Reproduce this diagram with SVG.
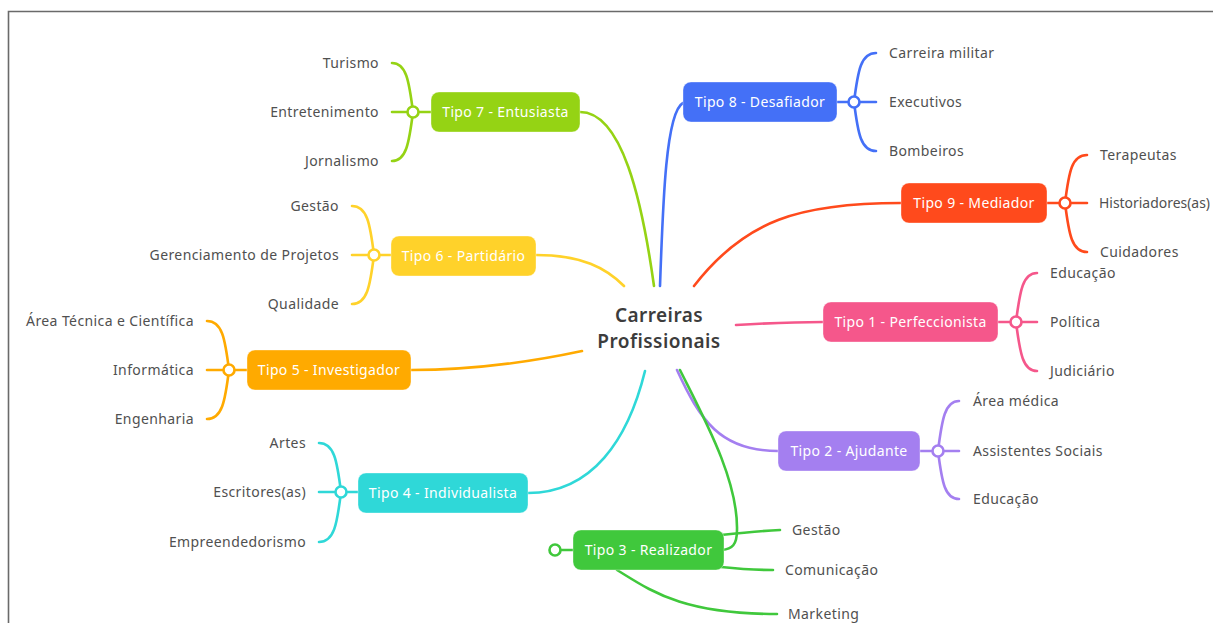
<svg xmlns="http://www.w3.org/2000/svg" width="1213" height="623" viewBox="0 0 1213 623">
  <defs>
    <radialGradient id="haze" cx="0.5" cy="0" r="0.5">
      <stop offset="0" stop-color="#e6e6e6" stop-opacity="0.95"/>
      <stop offset="0.6" stop-color="#f1f1f1" stop-opacity="0.6"/>
      <stop offset="1" stop-color="#ffffff" stop-opacity="0"/>
    </radialGradient>
    <radialGradient id="glow" cx="0.5" cy="0" r="0.5">
      <stop offset="0" stop-color="#ffd27a" stop-opacity="0.9"/>
      <stop offset="1" stop-color="#ffffff" stop-opacity="0"/>
    </radialGradient>
    <style>
      .box { stroke: #ffffff; stroke-opacity: 0.35; stroke-width: 1; }
      .lbl { font-family: "Noto Sans", Lato, sans-serif; font-size: 14px; letter-spacing: 0.35px; fill: #ffffff; text-anchor: middle; }
      .leaf { font-family: "Noto Sans", Lato, sans-serif; font-size: 14px; letter-spacing: 0.4px; fill: #505050; }
      .tight { letter-spacing: 0; }
      .l { text-anchor: end; }
      .r { text-anchor: start; }
      .ln { fill: none; stroke-width: 2.6; stroke-linecap: round; }
      .hub { fill: #ffffff; stroke-width: 2.6; }
      .root { font-family: "Noto Sans", Lato, sans-serif; font-size: 19px; font-weight: 600; letter-spacing: 0.45px; fill: #3c3c3c; text-anchor: middle; }
    </style>
  </defs>

  <!-- page background and frame -->
  <rect x="0" y="0" width="1213" height="623" fill="#ffffff"/>
  <ellipse cx="95" cy="12" rx="130" ry="34" fill="url(#haze)"/>
  <ellipse cx="1140" cy="12" rx="150" ry="34" fill="url(#haze)"/>
  <ellipse cx="971" cy="12" rx="26" ry="12" fill="url(#glow)"/>
  <rect x="0" y="0" width="1213" height="11" fill="#ffffff"/>
  <path d="M8.5 623 V11.5 H1213" fill="none" stroke="#6a6a6a" stroke-width="1.6"/>

  <!-- connectors -->
  <g id="connectors">
    <!-- root to main topics -->
    <path class="ln" stroke="#95d314" d="M580 112 C622 112 642 200 654 286"/>
    <path class="ln" stroke="#4470f7" d="M683 103 C666 112 663 200 660 286"/>
    <path class="ln" stroke="#ff4a1c" d="M694 286 C745 220 800 203 901 203"/>
    <path class="ln" stroke="#ffd22a" d="M536 255 C582 255 606 268 624 286"/>
    <path class="ln" stroke="#f5578b" d="M736 325 C770 323 795 322 823 322"/>
    <path class="ln" stroke="#ffaa00" d="M411 370 C480 370 540 360 582 351"/>
    <path class="ln" stroke="#2fd8d8" d="M528 493 C592 493 628 440 645 371"/>
    <path class="ln" stroke="#a47ff0" d="M677 370 C700 420 720 451 778 451"/>
    <path class="ln" stroke="#40c83c" d="M680 370 C705 420 738 480 737 530 C737 545 732 549 722 550"/>

    <!-- Tipo 7 leaves -->
    <path class="ln" stroke="#95d314" d="M413 112 C409 80 406 63 392 63 M413 112 C409 144 406 161 392 161 M392 112 H408 M418 112 H431"/>
    <!-- Tipo 6 leaves -->
    <path class="ln" stroke="#ffd22a" d="M374 255 C370 223 367 206 352 206 M374 255 C370 287 367 304 352 304 M352 255 H369 M379 255 H391"/>
    <!-- Tipo 5 leaves -->
    <path class="ln" stroke="#ffaa00" d="M229 370 C225 338 222 321 207 321 M229 370 C225 402 222 419 207 419 M207 370 H224 M234 370 H247"/>
    <!-- Tipo 4 leaves -->
    <path class="ln" stroke="#2fd8d8" d="M341 492 C337 460 334 443 319 443 M341 492 C337 525 334 542 319 542 M319 492 H336 M346 492 H358"/>
    <!-- Tipo 8 leaves -->
    <path class="ln" stroke="#4470f7" d="M854 102 C858 70 861 53 876 53 M854 102 C858 134 861 151 876 151 M876 102 H859 M849 102 H837"/>
    <!-- Tipo 9 leaves -->
    <path class="ln" stroke="#ff4a1c" d="M1065 203 C1069 171 1072 155 1087 155 M1065 203 C1069 235 1072 252 1087 252 M1087 203 H1070 M1060 203 H1047"/>
    <!-- Tipo 1 leaves -->
    <path class="ln" stroke="#f5578b" d="M1016 322 C1020 290 1023 273 1037 273 M1016 322 C1020 354 1023 371 1037 371 M1037 322 H1021 M1011 322 H998"/>
    <!-- Tipo 2 leaves -->
    <path class="ln" stroke="#a47ff0" d="M938 451 C942 419 945 401 959 401 M938 451 C942 483 945 499 959 499 M959 451 H943 M933 451 H920"/>
    <!-- Tipo 3 leaves -->
    <path class="ln" stroke="#40c83c" d="M721 535 C740 533 760 531 780 530 M721 567 C740 569 755 570 773 570 M617 570 C650 590 680 614 777 614 M561 550 H573"/>
  </g>

  <!-- central topic -->
  <g id="root">
    <text class="root" x="659" y="322">Carreiras</text>
    <text class="root" x="659" y="348">Profissionais</text>
  </g>

  <g id="tipo7">
    <rect class="box" x="431" y="92" width="149" height="40" rx="8" fill="#95d314"/>
    <text class="lbl" x="505.5" y="117">Tipo 7 - Entusiasta</text>
    <circle class="hub" cx="413" cy="112" r="5.5" stroke="#95d314"/>
    <text class="leaf l" x="379" y="68">Turismo</text>
    <text class="leaf l" x="379" y="117">Entretenimento</text>
    <text class="leaf l" x="379" y="166">Jornalismo</text>
  </g>

  <g id="tipo6">
    <rect class="box" x="391" y="236" width="145" height="40" rx="8" fill="#ffd22a"/>
    <text class="lbl" x="463.5" y="261">Tipo 6 - Partidário</text>
    <circle class="hub" cx="374" cy="255" r="5.5" stroke="#ffd22a"/>
    <text class="leaf l" x="339" y="211">Gestão</text>
    <text class="leaf l" x="339" y="260">Gerenciamento de Projetos</text>
    <text class="leaf l" x="339" y="309">Qualidade</text>
  </g>

  <g id="tipo5">
    <rect class="box" x="247" y="350" width="164" height="40" rx="8" fill="#ffaa00"/>
    <text class="lbl" x="329" y="375">Tipo 5 - Investigador</text>
    <circle class="hub" cx="229" cy="370" r="5.5" stroke="#ffaa00"/>
    <text class="leaf l" x="194" y="326">Área Técnica e Científica</text>
    <text class="leaf l" x="194" y="375">Informática</text>
    <text class="leaf l" x="194" y="424">Engenharia</text>
  </g>

  <g id="tipo4">
    <rect class="box" x="358" y="473" width="170" height="40" rx="8" fill="#2fd8d8"/>
    <text class="lbl" x="443" y="498">Tipo 4 - Individualista</text>
    <circle class="hub" cx="341" cy="492" r="5.5" stroke="#2fd8d8"/>
    <text class="leaf l" x="306" y="448">Artes</text>
    <text class="leaf l" x="306" y="497">Escritores(as)</text>
    <text class="leaf l" x="306" y="547">Empreendedorismo</text>
  </g>

  <g id="tipo3">
    <rect class="box" x="573" y="530" width="151" height="40" rx="8" fill="#40c83c"/>
    <text class="lbl" x="648.5" y="555">Tipo 3 - Realizador</text>
    <circle class="hub" cx="555" cy="550" r="5.5" stroke="#40c83c"/>
    <text class="leaf r" x="792" y="535">Gestão</text>
    <text class="leaf r" x="785" y="575">Comunicação</text>
    <text class="leaf r" x="788" y="619">Marketing</text>
  </g>

  <g id="tipo8">
    <rect class="box" x="683" y="82" width="154" height="40" rx="8" fill="#4470f7"/>
    <text class="lbl" x="760" y="107">Tipo 8 - Desafiador</text>
    <circle class="hub" cx="854" cy="102" r="5.5" stroke="#4470f7"/>
    <text class="leaf r" x="889" y="58">Carreira militar</text>
    <text class="leaf r" x="889" y="107">Executivos</text>
    <text class="leaf r" x="889" y="156">Bombeiros</text>
  </g>

  <g id="tipo9">
    <rect class="box" x="901" y="183" width="146" height="40" rx="8" fill="#ff4a1c"/>
    <text class="lbl" x="974" y="208">Tipo 9 - Mediador</text>
    <circle class="hub" cx="1065" cy="203" r="5.5" stroke="#ff4a1c"/>
    <text class="leaf r" x="1100" y="160">Terapeutas</text>
    <text class="leaf r tight" x="1099" y="208" textLength="111" lengthAdjust="spacingAndGlyphs">Historiadores(as)</text>
    <text class="leaf r" x="1100" y="257">Cuidadores</text>
  </g>

  <g id="tipo1">
    <rect class="box" x="823" y="302" width="175" height="40" rx="8" fill="#f5578b"/>
    <text class="lbl" x="910.5" y="327">Tipo 1 - Perfeccionista</text>
    <circle class="hub" cx="1016" cy="322" r="5.5" stroke="#f5578b"/>
    <text class="leaf r" x="1050" y="278">Educação</text>
    <text class="leaf r" x="1050" y="327">Política</text>
    <text class="leaf r" x="1050" y="376">Judiciário</text>
  </g>

  <g id="tipo2">
    <rect class="box" x="778" y="431" width="142" height="40" rx="8" fill="#a47ff0"/>
    <text class="lbl" x="849" y="456">Tipo 2 - Ajudante</text>
    <circle class="hub" cx="938" cy="451" r="5.5" stroke="#a47ff0"/>
    <text class="leaf r" x="973" y="406">Área médica</text>
    <text class="leaf r" x="973" y="456">Assistentes Sociais</text>
    <text class="leaf r" x="973" y="504">Educação</text>
  </g>
</svg>
